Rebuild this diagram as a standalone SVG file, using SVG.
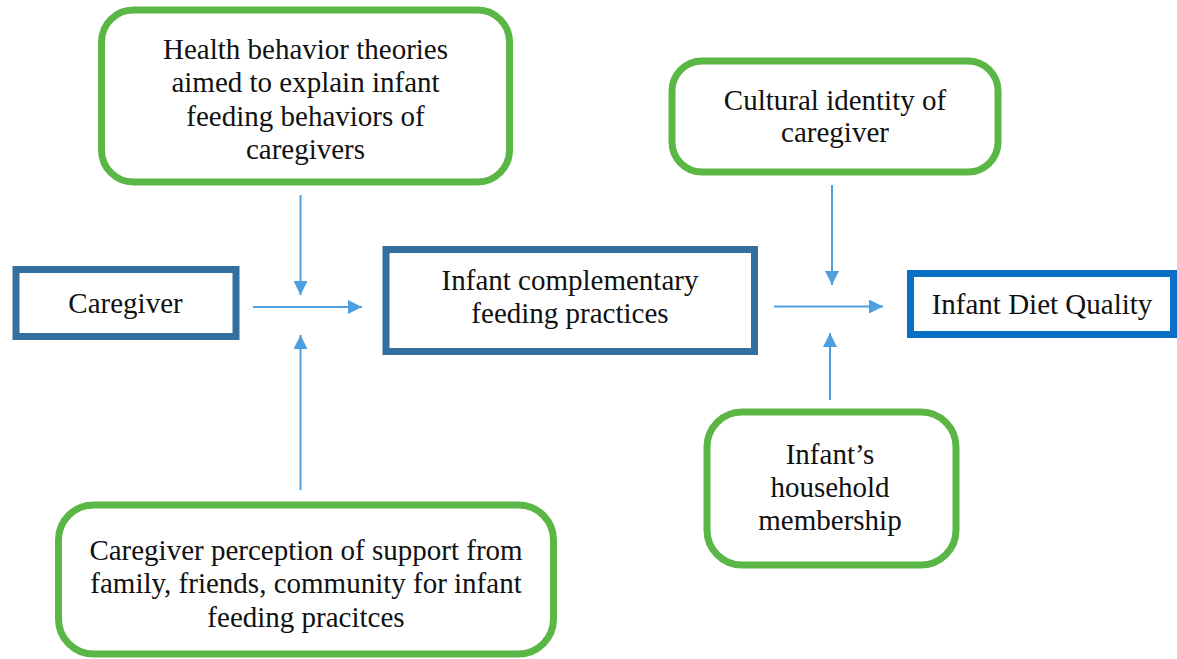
<svg xmlns="http://www.w3.org/2000/svg" width="1177" height="659" viewBox="0 0 1177 659">
<style>
.t{font-family:"Liberation Serif","Times New Roman",serif;font-size:29px;fill:#111;text-anchor:middle}
.g{fill:#fff;stroke:#5bb745;stroke-width:7}
.b{fill:#fff;stroke:#336f9f;stroke-width:7}
.c{fill:#fff;stroke:#0b6fc6;stroke-width:7}
.a{fill:none;stroke:#4d9fe0;stroke-width:2;marker-end:url(#ah)}
</style>
<defs>
<marker id="ah" markerUnits="userSpaceOnUse" markerWidth="15" markerHeight="14" refX="14" refY="7" orient="auto">
<path d="M0,0 L14,7 L0,14 z" fill="#4d9fe0"/>
</marker>
</defs>
<rect width="1177" height="659" fill="#fff"/>
<g id="connectors">
<path class="a" d="M253,307 H362"/>
<path class="a" d="M300.5,195 V295"/>
<path class="a" d="M300.5,490 V335"/>
<path class="a" d="M774,306.5 H883"/>
<path class="a" d="M832,185 V285"/>
<path class="a" d="M830,400 V333"/>
</g>
<g id="health">
<rect class="g" x="101.5" y="10" width="408" height="172" rx="32"/>
<text class="t" x="305.5" y="59">Health behavior theories</text>
<text class="t" x="305.5" y="92">aimed to explain infant</text>
<text class="t" x="305.5" y="125.5">feeding behaviors of</text>
<text class="t" x="305.5" y="159">caregivers</text>
</g>
<g id="cultural">
<rect class="g" x="672" y="61" width="326" height="111" rx="30"/>
<text class="t" x="835" y="110">Cultural identity of</text>
<text class="t" x="835" y="142">caregiver</text>
</g>
<g id="caregiver">
<rect class="b" x="16" y="269.5" width="220" height="67"/>
<text class="t" x="125.5" y="313">Caregiver</text>
</g>
<g id="practices">
<rect class="b" x="386" y="249.5" width="368.5" height="102"/>
<text class="t" x="570" y="290">Infant complementary</text>
<text class="t" x="570" y="323">feeding practices</text>
</g>
<g id="dietquality">
<rect class="c" x="910.5" y="273.5" width="263" height="61"/>
<text class="t" x="1042" y="314">Infant Diet Quality</text>
</g>
<g id="household">
<rect class="g" x="707" y="412" width="249" height="153" rx="35"/>
<text class="t" x="830" y="464">Infant’s</text>
<text class="t" x="830" y="497">household</text>
<text class="t" x="830" y="530">membership</text>
</g>
<g id="support">
<rect class="g" x="58.5" y="505" width="495" height="149" rx="35"/>
<text class="t" x="306" y="560">Caregiver perception of support from</text>
<text class="t" x="306" y="593">family, friends, community for infant</text>
<text class="t" x="306" y="627">feeding pracitces</text>
</g>
</svg>
